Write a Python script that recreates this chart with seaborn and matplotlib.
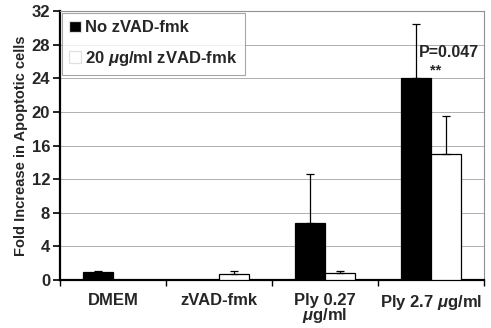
import numpy as np
import pandas as pd
import matplotlib
matplotlib.use('Agg')
import matplotlib.pyplot as plt
import seaborn as sns

categories = ['DMEM', 'zVAD-fmk', 'Ply 0.27\n$\\mu$g/ml', 'Ply 2.7 $\\mu$g/ml']
groups = ['No zVAD-fmk', '20 $\\mu$g/ml zVAD-fmk']
no_zvad = [1.0, 0.0, 6.8, 24.0]
no_zvad_err = [0.1, 0.0, 5.8, 6.5]
with_zvad = [0.0, 0.7, 0.83, 15.0]
with_zvad_err = [0.0, 0.35, 0.25, 4.5]
y_ticks = [0, 4, 8, 12, 16, 20, 24, 28, 32]

sns.set_style('white')
plt.rcParams['font.family'] = ['Liberation Sans', 'DejaVu Sans']
plt.rcParams['font.weight'] = 'bold'
plt.rcParams['mathtext.fontset'] = 'custom'
plt.rcParams['mathtext.it'] = 'Liberation Sans:italic:bold'

df = pd.DataFrame({
    'cat': categories * 2,
    'grp': [groups[0]] * 4 + [groups[1]] * 4,
    'val': no_zvad + with_zvad,
    'err': no_zvad_err + with_zvad_err,
})

fig = plt.figure(figsize=(4.91, 3.28), dpi=100)
ax = fig.add_axes([0.122, 0.146, 0.864, 0.820])

sns.barplot(data=df, x='cat', y='val', hue='grp', order=categories, hue_order=groups,
            palette=['black', 'white'], edgecolor='black', linewidth=0.9,
            width=0.57, errorbar=None, ax=ax, zorder=3)

# upward-only error bars, positioned from the drawn bars
bars = ax.patches[:8]
for p, (_, row) in zip(bars, df.iterrows()):
    if row['val'] > 0:
        ax.errorbar(p.get_x() + p.get_width() / 2, row['val'], yerr=[[0], [row['err']]],
                    color='black', lw=0.9, capsize=3, capthick=0.9, zorder=4)

ax.set_ylim(0, 32)
ax.set_xlim(-0.5, 3.5)
ax.set_yticks(y_ticks)
ax.yaxis.grid(True, color='#b0b0b0', lw=0.7, zorder=0)
ax.set_axisbelow(True)
ax.tick_params(axis='y', labelsize=12, length=5, width=1.2, color='black', left=True, pad=2)
ax.set_xticks(range(4))
ax.set_xticklabels(categories, fontsize=12, fontweight='bold', linespacing=0.9)
ax.tick_params(axis='x', length=0, pad=9)
ax.set_xticks(np.arange(-0.5, 4, 1), minor=True)
ax.tick_params(axis='x', which='minor', length=4, width=1, color='black', bottom=True)
for lbl in ax.get_yticklabels():
    lbl.set_fontweight('bold')

ax.set_xlabel('')
ax.set_ylabel('Fold Increase in Apoptotic cells', fontsize=10.5, fontweight='bold', labelpad=3)

for sp in ['left', 'bottom']:
    ax.spines[sp].set_color('black')
    ax.spines[sp].set_linewidth(1.6)
for sp in ['top', 'right']:
    ax.spines[sp].set_color('#909090')
    ax.spines[sp].set_linewidth(0.8)

leg = ax.legend(loc='upper left', bbox_to_anchor=(0.0, 1.0), fontsize=12, frameon=True,
                fancybox=False, edgecolor='#909090', handlelength=0.7, handleheight=0.7,
                handletextpad=0.25, borderaxespad=0.1, labelspacing=0.8, borderpad=0.45)
leg.get_frame().set_linewidth(0.8)
for t in leg.get_texts():
    t.set_fontweight('bold')
for h in leg.legend_handles:
    h.set_edgecolor('#e0e0e0')

ax.text(3.17, 27.1, 'P=0.047', fontsize=11.5, fontweight='bold', ha='center', va='center')
ax.text(3.04, 25.0, '**', fontsize=10.5, fontweight='bold', ha='center', va='center')

fig.savefig('out.png', dpi=100)
